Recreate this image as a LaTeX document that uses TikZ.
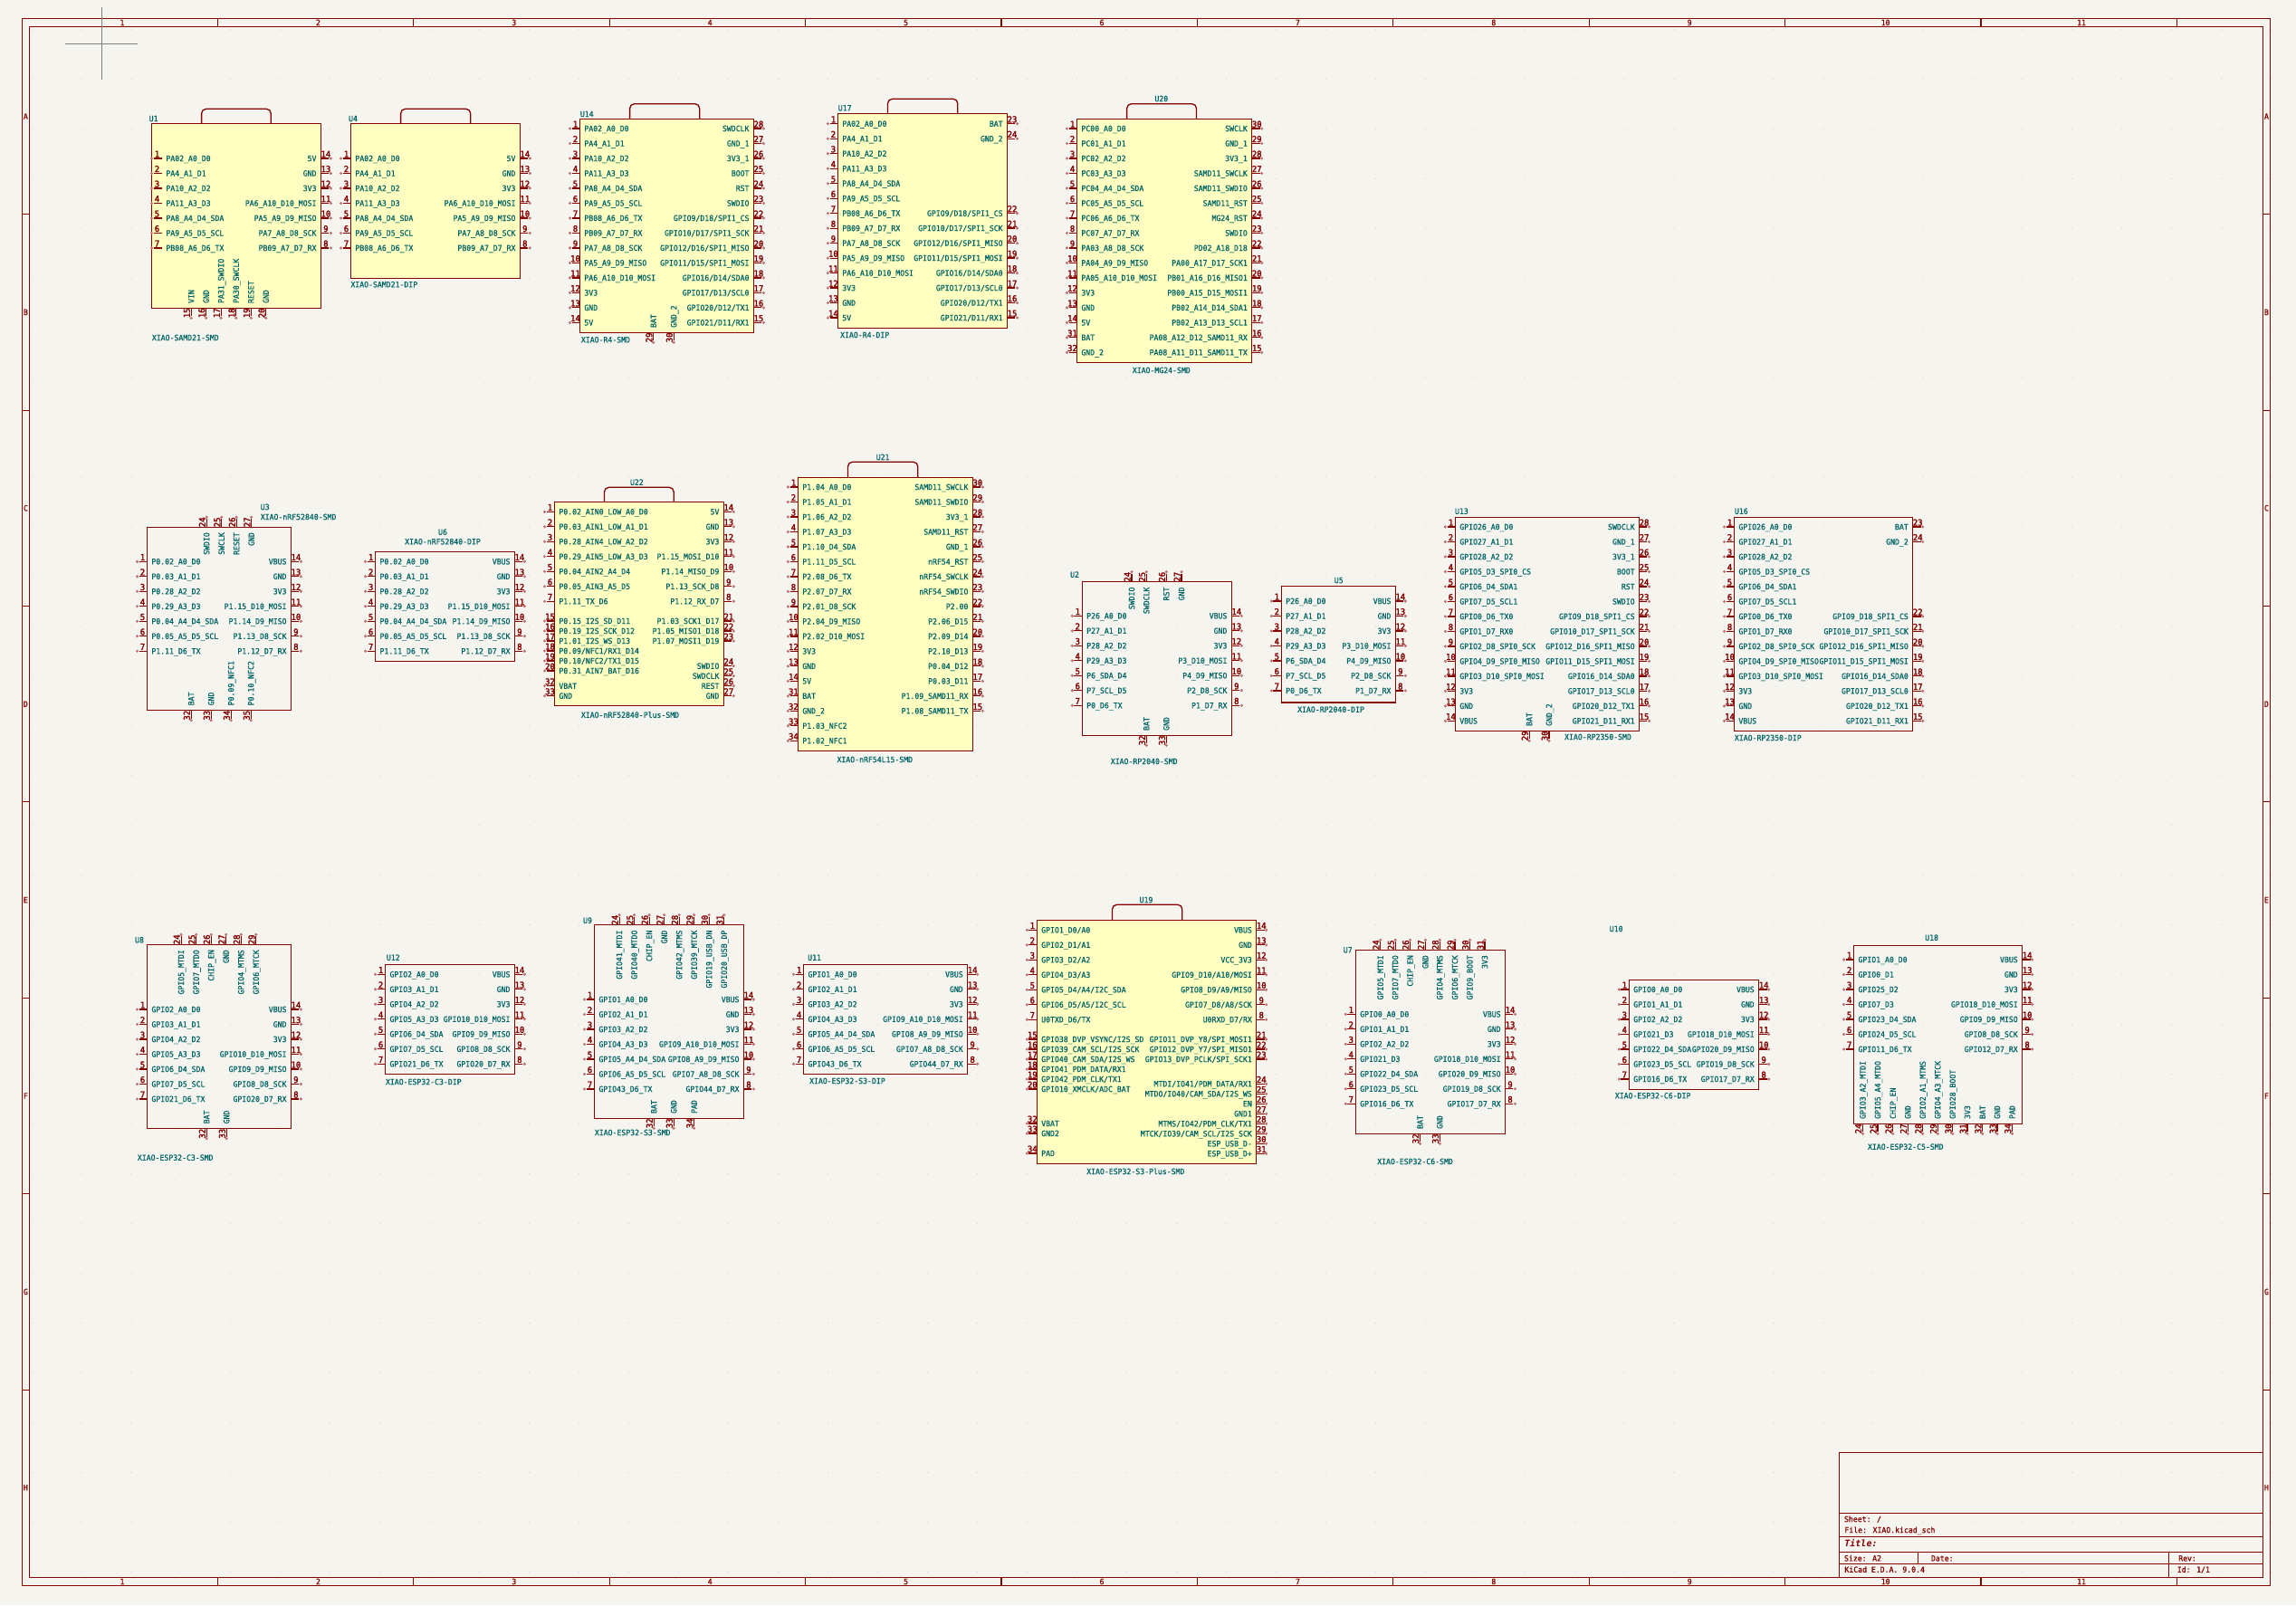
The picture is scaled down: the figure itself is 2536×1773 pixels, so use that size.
\documentclass[tikz,border=0pt]{standalone}
\usepackage{fontspec}
\setmonofont{DejaVu Sans Mono}
\newfontfamily\schmono[FakeStretch=0.95,FakeBold=0.8]{DejaVu Sans Mono}
\newfontfamily\schmononum[FakeStretch=0.95,FakeBold=2.5]{DejaVu Sans Mono}
\catcode`\_=12
\definecolor{sheetbg}{HTML}{F5F4EF}
\definecolor{schred}{HTML}{840000}
\definecolor{schteal}{HTML}{006464}
\definecolor{schfill}{HTML}{FFFFC2}
\definecolor{pindot}{HTML}{BC7272}
\newcommand{\schfont}{\schmono\fontsize{4.3}{5}\selectfont}
\newcommand{\numfont}{\schmononum\fontsize{4.7}{5}\selectfont}
\tikzset{
  framed/.style={draw=schred, line width=0.55pt},
  symplain/.style={draw=schred, line width=0.65pt},
  symfilled/.style={symplain, fill=schfill},
  griddot/.style={fill=black!18},
  pinline/.style={draw=schred, line width=0.6pt},
  pinend/.style={circle, inner sep=0pt, minimum size=1.7pt, fill=pindot},
  pintext/.style={font=\schfont, text=schteal, inner sep=0pt, text height=3.1pt, text depth=0pt},
  pinnum/.style={font=\numfont, text=schred, inner sep=0pt, text height=3.1pt, text depth=0pt},
  frametext/.style={font=\schfont, text=schred, inner sep=0pt, text height=3.1pt, text depth=0pt},
}
\newcommand{\xiaobox}[5][symplain]{\draw[#1] (#2,#3) rectangle (#4,#5);}
\newcommand{\usbtab}[4]{\draw[symplain, rounded corners=2.5pt] (#1,#3) -- (#1,#4) -- (#2,#4) -- (#2,#3);}
\newcommand{\pinsleft}[5][16.49]{%
  \foreach \pinid/\pintxt [count=\pincount from 0] in {#5}{
    \node[pinend] (#2_\pinid_end) at (#3, #4+\pincount*#1) {};
    \coordinate (#2_\pinid_in) at (#3+11, #4+\pincount*#1);
    \draw[pinline] (#2_\pinid_end) -- (#2_\pinid_in);
    \node[pinnum, anchor=south] (#2_\pinid_num) at (#3+6, #4+\pincount*#1-1) {\pinid};
    \node[pintext, anchor=west] (#2_\pinid_txt) at (#3+15.5, #4+\pincount*#1) {\pintxt};
  }}
\newcommand{\pinsright}[5][16.49]{%
  \foreach \pinid/\pintxt [count=\pincount from 0] in {#5}{
    \node[pinend] (#2_\pinid_end) at (#3, #4+\pincount*#1) {};
    \coordinate (#2_\pinid_in) at (#3-11, #4+\pincount*#1);
    \draw[pinline] (#2_\pinid_end) -- (#2_\pinid_in);
    \node[pinnum, anchor=south] (#2_\pinid_num) at (#3-5.5, #4+\pincount*#1-1) {\pinid};
    \node[pintext, anchor=east] (#2_\pinid_txt) at (#3-15.5, #4+\pincount*#1) {\pintxt};
  }}
\newcommand{\pinstop}[3]{%
  \foreach \pinid/\pinx/\pintxt in {#3}{
    \node[pinend] (#1_\pinid_end) at (\pinx, #2-11) {};
    \coordinate (#1_\pinid_in) at (\pinx, #2);
    \draw[pinline] (#1_\pinid_end) -- (#1_\pinid_in);
    \node[pinnum, rotate=90, anchor=south] (#1_\pinid_num) at (\pinx-1, #2-5.5) {\pinid};
    \node[pintext, rotate=90, anchor=east] (#1_\pinid_txt) at (\pinx, #2+5.5) {\pintxt};
  }}
\newcommand{\pinsbottom}[3]{%
  \foreach \pinid/\pinx/\pintxt in {#3}{
    \node[pinend] (#1_\pinid_end) at (\pinx, #2+11) {};
    \coordinate (#1_\pinid_in) at (\pinx, #2);
    \draw[pinline] (#1_\pinid_end) -- (#1_\pinid_in);
    \node[pinnum, rotate=90, anchor=south] (#1_\pinid_num) at (\pinx-1, #2+5.5) {\pinid};
    \node[pintext, rotate=90, anchor=west] (#1_\pinid_txt) at (\pinx, #2-5) {\pintxt};
  }}
\begin{document}
\begin{tikzpicture}[x=0.5pt, y=-0.5pt]
\useasboundingbox (0,0) rectangle (2536,1773);
\fill[sheetbg] (0,0) rectangle (2536,1773);

\foreach \gx in {0,...,45} \foreach \gy in {0,...,31} \fill[griddot] (35+\gx*54.97, 32.3+\gy*54.97) circle (0.3pt);

\draw[framed] (24.3,20.3) rectangle (2507.4,1751.3);
\draw[framed] (32.3,29.3) rectangle (2499.5,1742.3);
\foreach \col [count=\colnr from 0] in {1,...,11}{
  \node[frametext] (col_top_\col) at (135+216.4*\colnr, 25) {\col};
  \node[frametext] (col_bot_\col) at (135+216.4*\colnr, 1747) {\col};
  \draw[framed] (240.4+216.4*\colnr, 20.3) -- (240.4+216.4*\colnr, 29.3);
  \draw[framed] (240.4+216.4*\colnr, 1742.3) -- (240.4+216.4*\colnr, 1751.3);
}
\foreach \row [count=\rownr from 0] in {A,...,H}{
  \node[frametext] (row_left_\row) at (28.4, 128.5+216.4*\rownr) {\row};
  \node[frametext] (row_right_\row) at (2503.4, 128.5+216.4*\rownr) {\row};
}
\foreach \rownr in {0,...,6}{
  \draw[framed] (24.3, 236.7+216.4*\rownr) -- (32.3, 236.7+216.4*\rownr);
  \draw[framed] (2499.5, 236.7+216.4*\rownr) -- (2507.4, 236.7+216.4*\rownr);
}

\draw[black!50, line width=0.5pt] (72,48.3) -- (152,48.3);
\draw[black!50, line width=0.5pt] (112.3,8) -- (112.3,88);

\draw[framed] (2031.5,1604.3) rectangle (2499.5,1742.3);
\draw[framed] (2031.5,1671.3) -- (2499.5,1671.3);
\draw[framed] (2031.5,1697.3) -- (2499.5,1697.3);
\draw[framed] (2031.5,1714.3) -- (2499.5,1714.3);
\draw[framed] (2031.5,1727.3) -- (2499.5,1727.3);
\draw[framed] (2118.6,1714.3) -- (2118.6,1727.3);
\draw[framed] (2395.6,1714.3) -- (2395.6,1742.3);
\node[frametext, anchor=west] (sheet_name) at (2036.6,1678) {Sheet: /};
\node[frametext, anchor=west] (file_name) at (2037,1690) {File: XIAO.kicad_sch};
\node[frametext, anchor=west, font=\ttfamily\bfseries\itshape\fontsize{5}{6}\selectfont] (title_name) at (2037,1705) {Title:};
\node[frametext, anchor=west] (size_name) at (2036.6,1721.3) {Size: A2};
\node[frametext, anchor=west] (date_name) at (2132.6,1721.3) {Date:};
\node[frametext, anchor=west] (rev_name) at (2405.8,1721.3) {Rev:};
\node[frametext, anchor=west] (kicad_name) at (2037,1733.7) {KiCad E.D.A. 9.0.4};
\node[frametext, anchor=west] (id_name) at (2404.4,1733.7) {Id: 1/1};

\xiaobox[symfilled]{167.5}{136.3}{354.4}{340.3}
\usbtab{222.6}{299.3}{136.3}{120.3}
\pinsleft{U1}{167.5}{175}{1/PA02_A0_D0,2/PA4_A1_D1,3/PA10_A2_D2,4/PA11_A3_D3,5/PA8_A4_D4_SDA,6/PA9_A5_D5_SCL,7/PB08_A6_D6_TX}
\pinsright{U1}{365.4}{175}{14/5V,13/GND,12/3V3,11/PA6_A10_D10_MOSI,10/PA5_A9_D9_MISO,9/PA7_A8_D8_SCK,8/PB09_A7_D7_RX}
\pinsbottom{U1}{340.3}{15/211.2/VIN,16/227.7/GND,17/244.2/PA31_SWDIO,18/260.8/PA30_SWCLK,19/277.3/RESET,20/293.8/GND}
\node[pintext, anchor=west] (U1_ref) at (164.3,131) {U1};
\node[pintext, anchor=west] (U1_val) at (167.5,373) {XIAO-SAMD21-SMD};

\xiaobox[symfilled]{387.5}{136.3}{574.3}{307.3}
\usbtab{442.6}{519.7}{136.3}{120.3}
\pinsleft{U4}{376.5}{175}{1/PA02_A0_D0,2/PA4_A1_D1,3/PA10_A2_D2,4/PA11_A3_D3,5/PA8_A4_D4_SDA,6/PA9_A5_D5_SCL,7/PB08_A6_D6_TX}
\pinsright{U4}{585.3}{175}{14/5V,13/GND,12/3V3,11/PA6_A10_D10_MOSI,10/PA5_A9_D9_MISO,9/PA7_A8_D8_SCK,8/PB09_A7_D7_RX}
\node[pintext, anchor=west] (U4_ref) at (384.7,131) {U4};
\node[pintext, anchor=west] (U4_val) at (387,314.3) {XIAO-SAMD21-DIP};

\xiaobox[symfilled]{640.5}{131.7}{832.4}{367.3}
\usbtab{695.6}{772.7}{131.7}{114.7}
\pinsleft{U14}{629.5}{142}{1/PA02_A0_D0,2/PA4_A1_D1,3/PA10_A2_D2,4/PA11_A3_D3,5/PA8_A4_D4_SDA,6/PA9_A5_D5_SCL,7/PB08_A6_D6_TX,8/PB09_A7_D7_RX,9/PA7_A8_D8_SCK,10/PA5_A9_D9_MISO,11/PA6_A10_D10_MOSI,12/3V3,13/GND,14/5V}
\pinsright{U14}{843.4}{142}{28/SWDCLK,27/GND_1,26/3V3_1,25/BOOT,24/RST,23/SWDIO,22/{GPIO9/D18/SPI1_CS},21/{GPIO10/D17/SPI1_SCK},20/{GPIO12/D16/SPI1_MISO},19/{GPIO11/D15/SPI1_MOSI},18/{GPIO16/D14/SDA0},17/{GPIO17/D13/SCL0},16/{GPIO20/D12/TX1},15/{GPIO21/D11/RX1}}
\pinsbottom{U14}{367.3}{29/721.7/BAT,30/744.2/GND_2}
\node[pintext, anchor=west] (U14_ref) at (640.5,126) {U14};
\node[pintext, anchor=west] (U14_val) at (641.5,375.3) {XIAO-R4-SMD};

\xiaobox[symfilled]{925.4}{125.3}{1112.5}{362.3}
\usbtab{980.5}{1057.8}{125.3}{109.3}
\pinsleft{U17}{914.4}{136.7}{1/PA02_A0_D0,2/PA4_A1_D1,3/PA10_A2_D2,4/PA11_A3_D3,5/PA8_A4_D4_SDA,6/PA9_A5_D5_SCL,7/PB08_A6_D6_TX,8/PB09_A7_D7_RX,9/PA7_A8_D8_SCK,10/PA5_A9_D9_MISO,11/PA6_A10_D10_MOSI,12/3V3,13/GND,14/5V}
\pinsright{U17}{1123.5}{136.7}{23/BAT,24/GND_2}
\pinsright{U17}{1123.5}{235.6}{22/{GPIO9/D18/SPI1_CS},21/{GPIO10/D17/SPI1_SCK},20/{GPIO12/D16/SPI1_MISO},19/{GPIO11/D15/SPI1_MOSI},18/{GPIO16/D14/SDA0},17/{GPIO17/D13/SCL0},16/{GPIO20/D12/TX1},15/{GPIO21/D11/RX1}}
\node[pintext, anchor=west] (U17_ref) at (925.4,119.3) {U17};
\node[pintext, anchor=west] (U17_val) at (927.7,370) {XIAO-R4-DIP};

\xiaobox[symfilled]{1189.5}{131.7}{1382.7}{400.3}
\usbtab{1244.6}{1321.5}{131.7}{114.7}
\pinsleft{U20}{1178.5}{142}{1/PC00_A0_D0,2/PC01_A1_D1,3/PC02_A2_D2,4/PC03_A3_D3,5/PC04_A4_D4_SDA,6/PC05_A5_D5_SCL,7/PC06_A6_D6_TX,8/PC07_A7_D7_RX,9/PA03_A8_D8_SCK,10/PA04_A9_D9_MISO,11/PA05_A10_D10_MOSI,12/3V3,13/GND,14/5V,31/BAT,32/GND_2}
\pinsright{U20}{1393.7}{142}{30/SWCLK,29/GND_1,28/3V3_1,27/SAMD11_SWCLK,26/SAMD11_SWDIO,25/SAMD11_RST,24/MG24_RST,23/SWDIO,22/PD02_A18_D18,21/PA00_A17_D17_SCK1,20/PB01_A16_D16_MISO1,19/PB00_A15_D15_MOSI1,18/PB02_A14_D14_SDA1,17/PB02_A13_D13_SCL1,16/PA08_A12_D12_SAMD11_RX,15/PA08_A11_D11_SAMD11_TX}
\node[pintext] (U20_ref) at (1282.8,109) {U20};
\node[pintext] (U20_val) at (1282.8,409) {XIAO-MG24-SMD};

\xiaobox{162.5}{582.3}{321.4}{784.7}
\pinsleft{U3}{151.5}{620.3}{1/P0.02_A0_D0,2/P0.03_A1_D1,3/P0.28_A2_D2,4/P0.29_A3_D3,5/P0.04_A4_D4_SDA,6/P0.05_A5_D5_SCL,7/P1.11_D6_TX}
\pinsright{U3}{332.4}{620.3}{14/VBUS,13/GND,12/3V3,11/P1.15_D10_MOSI,10/P1.14_D9_MISO,9/P1.13_D8_SCK,8/P1.12_D7_RX}
\pinstop{U3}{582.3}{24/228.2/SWDIO,25/244.7/SWCLK,26/261.2/RESET,27/277.7/GND}
\pinsbottom{U3}{784.7}{32/211.2/BAT,33/233.2/GND,34/255.2/P0.09_NFC1,35/277.2/P0.10_NFC2}
\node[pintext, anchor=west] (U3_ref) at (287.4,560) {U3};
\node[pintext, anchor=west] (U3_val) at (287.4,571) {XIAO-nRF52840-SMD};

\xiaobox{414.6}{609.3}{568.4}{730.3}
\pinsleft{U6}{403.6}{620.3}{1/P0.02_A0_D0,2/P0.03_A1_D1,3/P0.28_A2_D2,4/P0.29_A3_D3,5/P0.04_A4_D4_SDA,6/P0.05_A5_D5_SCL,7/P1.11_D6_TX}
\pinsright{U6}{579.4}{620.3}{14/VBUS,13/GND,12/3V3,11/P1.15_D10_MOSI,10/P1.14_D9_MISO,9/P1.13_D8_SCK,8/P1.12_D7_RX}
\node[pintext] (U6_ref) at (489,587.7) {U6};
\node[pintext] (U6_val) at (489,598.3) {XIAO-nRF52840-DIP};

\xiaobox[symfilled]{612.5}{554.3}{799.3}{779.3}
\usbtab{667.5}{744.2}{554.3}{538.3}
\pinsleft{U22}{601.5}{565.3}{1/P0.02_AIN0_LOW_A0_D0,2/P0.03_AIN1_LOW_A1_D1,3/P0.28_AIN4_LOW_A2_D2,4/P0.29_AIN5_LOW_A3_D3,5/P0.04_AIN2_A4_D4,6/P0.05_AIN3_A5_D5,7/P1.11_TX_D6}
\pinsleft[11]{U22}{601.5}{686}{15/P0.15_I2S_SD_D11,16/P0.19_I2S_SCK_D12,17/P1.01_I2S_WS_D13,18/{P0.09/NFC1/RX1_D14},19/{P0.10/NFC2/TX1_D15},20/P0.31_AIN7_BAT_D16}
\pinsleft[11]{U22}{601.5}{757.7}{32/VBAT,33/GND}
\pinsright{U22}{810.3}{565.3}{14/5V,13/GND,12/3V3,11/P1.15_MOSI_D10,10/P1.14_MISO_D9,9/P1.13_SCK_D8,8/P1.12_RX_D7}
\pinsright[11]{U22}{810.3}{686}{21/P1.03_SCK1_D17,22/P1.05_MISO1_D18,23/P1.07_MOSI1_D19}
\pinsright[11]{U22}{810.3}{735.7}{24/SWDIO,25/SWDCLK,26/REST,27/GND}
\node[pintext] (U22_ref) at (703.4,532.7) {U22};
\node[pintext] (U22_val) at (696,789.7) {XIAO-nRF52840-Plus-SMD};

\xiaobox[symfilled]{881.4}{527.3}{1074.3}{829.3}
\usbtab{936.5}{1013.8}{527.3}{510.3}
\pinsleft{U21}{870.4}{538}{1/P1.04_A0_D0,2/P1.05_A1_D1,3/P1.06_A2_D2,4/P1.07_A3_D3,5/P1.10_D4_SDA,6/P1.11_D5_SCL,7/P2.08_D6_TX,8/P2.07_D7_RX,9/P2.01_D8_SCK,10/P2.04_D9_MISO,11/P2.02_D10_MOSI,12/3V3,13/GND,14/5V,31/BAT,32/GND_2,33/P1.03_NFC2,34/P1.02_NFC1}
\pinsright{U21}{1085.3}{538}{30/SAMD11_SWCLK,29/SAMD11_SWDIO,28/3V3_1,27/SAMD11_RST,26/GND_1,25/nRF54_RST,24/nRF54_SWCLK,23/nRF54_SWDIO,22/P2.00,21/P2.06_D15,20/P2.09_D14,19/P2.10_D13,18/P0.04_D12,17/P0.03_D11,16/P1.09_SAMD11_RX,15/P1.08_SAMD11_TX}
\node[pintext] (U21_ref) at (975.1,505) {U21};
\node[pintext] (U21_val) at (966.3,839) {XIAO-nRF54L15-SMD};

\xiaobox{1195.3}{642.7}{1360.3}{812.3}
\pinsleft{U2}{1184.3}{680.3}{1/P26_A0_D0,2/P27_A1_D1,3/P28_A2_D2,4/P29_A3_D3,5/P6_SDA_D4,6/P7_SCL_D5,7/P0_D6_TX}
\pinsright{U2}{1371.3}{680.3}{14/VBUS,13/GND,12/3V3,11/P3_D10_MOSI,10/P4_D9_MISO,9/P2_D8_SCK,8/P1_D7_RX}
\pinstop{U2}{642.7}{24/1250/SWDIO,25/1266.3/SWDCLK,26/1288.3/RST,27/1305/GND}
\pinsbottom{U2}{812.3}{32/1266.3/BAT,33/1288.3/GND}
\node[pintext, anchor=west] (U2_ref) at (1181.7,634.7) {U2};
\node[pintext] (U2_val) at (1263.7,841) {XIAO-RP2040-SMD};

\xiaobox{1415.3}{647.7}{1541.3}{776}
\pinsleft{U5}{1404.3}{664}{1/P26_A0_D0,2/P27_A1_D1,3/P28_A2_D2,4/P29_A3_D3,5/P6_SDA_D4,6/P7_SCL_D5,7/P0_D6_TX}
\pinsright{U5}{1552.3}{664}{14/VBUS,13/GND,12/3V3,11/P3_D10_MOSI,10/P4_D9_MISO,9/P2_D8_SCK,8/P1_D7_RX}
\node[pintext] (U5_ref) at (1478.7,641) {U5};
\node[pintext] (U5_val) at (1470,783.7) {XIAO-RP2040-DIP};

\xiaobox{1607.4}{571.7}{1810.5}{807.3}
\pinsleft{U13}{1596.4}{582}{1/GPIO26_A0_D0,2/GPIO27_A1_D1,3/GPIO28_A2_D2,4/GPIO5_D3_SPI0_CS,5/GPIO6_D4_SDA1,6/GPIO7_D5_SCL1,7/GPIO0_D6_TX0,8/GPIO1_D7_RX0,9/GPIO2_D8_SPI0_SCK,10/GPIO4_D9_SPI0_MISO,11/GPIO3_D10_SPI0_MOSI,12/3V3,13/GND,14/VBUS}
\pinsright{U13}{1821.5}{582}{28/SWDCLK,27/GND_1,26/3V3_1,25/BOOT,24/RST,23/SWDIO,22/GPIO9_D18_SPI1_CS,21/GPIO10_D17_SPI1_SCK,20/GPIO12_D16_SPI1_MISO,19/GPIO11_D15_SPI1_MOSI,18/GPIO16_D14_SDA0,17/GPIO17_D13_SCL0,16/GPIO20_D12_TX1,15/GPIO21_D11_RX1}
\pinsbottom{U13}{807.3}{29/1689.1/BAT,30/1711/GND_2}
\node[pintext, anchor=west] (U13_ref) at (1606.6,564.7) {U13};
\node[pintext] (U13_val) at (1765,814) {XIAO-RP2350-SMD};

\xiaobox{1915.5}{571.7}{2112.7}{807.3}
\pinsleft{U16}{1904.5}{582}{1/GPIO26_A0_D0,2/GPIO27_A1_D1,3/GPIO28_A2_D2,4/GPIO5_D3_SPI0_CS,5/GPIO6_D4_SDA1,6/GPIO7_D5_SCL1,7/GPIO0_D6_TX0,8/GPIO1_D7_RX0,9/GPIO2_D8_SPI0_SCK,10/GPIO4_D9_SPI0_MISO,11/GPIO3_D10_SPI0_MOSI,12/3V3,13/GND,14/VBUS}
\pinsright{U16}{2123.7}{582}{23/BAT,24/GND_2}
\pinsright{U16}{2123.7}{680.9}{22/GPIO9_D18_SPI1_CS,21/GPIO10_D17_SPI1_SCK,20/GPIO12_D16_SPI1_MISO,19/GPIO11_D15_SPI1_MOSI,18/GPIO16_D14_SDA0,17/GPIO17_D13_SCL0,16/GPIO20_D12_TX1,15/GPIO21_D11_RX1}
\node[pintext, anchor=west] (U16_ref) at (1915.5,564.7) {U16};
\node[pintext, anchor=west] (U16_val) at (1915.5,815) {XIAO-RP2350-DIP};

\xiaobox{162.5}{1043.3}{321.4}{1246.7}
\pinsleft{U8}{151.5}{1115}{1/GPIO2_A0_D0,2/GPIO3_A1_D1,3/GPIO4_A2_D2,4/GPIO5_A3_D3,5/GPIO6_D4_SDA,6/GPIO7_D5_SCL,7/GPIO21_D6_TX}
\pinsright{U8}{332.4}{1115}{14/VBUS,13/GND,12/3V3,11/GPIO10_D10_MOSI,10/GPIO9_D9_MISO,9/GPIO8_D8_SCK,8/GPIO20_D7_RX}
\pinstop{U8}{1043.3}{24/200.1/GPIO5_MTDI,25/216.7/GPIO7_MTDO,26/233.2/CHIP_EN,27/249.7/GND,28/266.3/GPIO4_MTMS,29/282.8/GPIO6_MTCK}
\pinsbottom{U8}{1246.7}{32/228.2/BAT,33/250.2/GND}
\node[pintext, anchor=west] (U8_ref) at (148.7,1038.3) {U8};
\node[pintext, anchor=west] (U8_val) at (151.5,1278.7) {XIAO-ESP32-C3-SMD};

\xiaobox{425.6}{1065.3}{568.4}{1186.3}
\pinsleft{U12}{414.6}{1076.3}{1/GPIO2_A0_D0,2/GPIO3_A1_D1,3/GPIO4_A2_D2,4/GPIO5_A3_D3,5/GPIO6_D4_SDA,6/GPIO7_D5_SCL,7/GPIO21_D6_TX}
\pinsright{U12}{579.4}{1076.3}{14/VBUS,13/GND,12/3V3,11/GPIO10_D10_MOSI,10/GPIO9_D9_MISO,9/GPIO8_D8_SCK,8/GPIO20_D7_RX}
\node[pintext, anchor=west] (U12_ref) at (426.5,1057.7) {U12};
\node[pintext, anchor=west] (U12_val) at (425.6,1195) {XIAO-ESP32-C3-DIP};

\xiaobox{656.5}{1021.7}{821.4}{1235.3}
\pinsleft{U9}{645.5}{1104}{1/GPIO1_A0_D0,2/GPIO2_A1_D1,3/GPIO3_A2_D2,4/GPIO4_A3_D3,5/GPIO5_A4_D4_SDA,6/GPIO6_A5_D5_SCL,7/GPIO43_D6_TX}
\pinsright{U9}{832.4}{1104}{14/VBUS,13/GND,12/3V3,11/GPIO9_A10_D10_MOSI,10/GPIO8_A9_D9_MISO,9/GPIO7_A8_D8_SCK,8/GPIO44_D7_RX}
\pinstop{U9}{1021.7}{24/684.1/GPIO41_MTDI,25/700.6/GPIO40_MTDO,26/717.1/CHIP_EN,27/733.7/GND,28/750.2/GPIO42_MTMS,29/766.7/GPIO39_MTCK,30/783.2/GPIO19_USB_DN,31/799.8/GPIO20_USB_DP}
\pinsbottom{U9}{1235.3}{32/722.2/BAT,33/744.2/GND,34/766.7/PAD}
\node[pintext, anchor=west] (U9_ref) at (643.7,1016.7) {U9};
\node[pintext, anchor=west] (U9_val) at (656.5,1251) {XIAO-ESP32-S3-SMD};

\xiaobox{887.6}{1065.3}{1068.6}{1186.3}
\pinsleft{U11}{876.6}{1076.3}{1/GPIO1_A0_D0,2/GPIO2_A1_D1,3/GPIO3_A2_D2,4/GPIO4_A3_D3,5/GPIO5_A4_D4_SDA,6/GPIO6_A5_D5_SCL,7/GPIO43_D6_TX}
\pinsright{U11}{1079.6}{1076.3}{14/VBUS,13/GND,12/3V3,11/GPIO9_A10_D10_MOSI,10/GPIO8_A9_D9_MISO,9/GPIO7_A8_D8_SCK,8/GPIO44_D7_RX}
\node[pintext, anchor=west] (U11_ref) at (891.8,1057.7) {U11};
\node[pintext, anchor=west] (U11_val) at (893.7,1194) {XIAO-ESP32-S3-DIP};

\xiaobox[symfilled]{1145.3}{1016.3}{1387.7}{1285.3}
\usbtab{1228.5}{1305.8}{1016.3}{999.3}
\pinsleft{U19}{1134.3}{1027.3}{1/{GPIO1_D0/A0},2/{GPIO2_D1/A1},3/{GPIO3_D2/A2},4/{GPIO4_D3/A3},5/{GPIO5_D4/A4/I2C_SDA},6/{GPIO6_D5/A5/I2C_SCL},7/{U0TXD_D6/TX}}
\pinsleft[11]{U19}{1134.3}{1148}{15/{GPIO38_DVP_VSYNC/I2S_SD},16/{GPIO39_CAM_SCL/I2S_SCK},17/{GPIO40_CAM_SDA/I2S_WS},18/{GPIO41_PDM_DATA/RX1},19/{GPIO42_PDM_CLK/TX1},20/{GPIO10_XMCLK/ADC_BAT}}
\pinsleft[11]{U19}{1134.3}{1241}{32/VBAT,33/GND2}
\pinsleft[11]{U19}{1134.3}{1274}{34/PAD}
\pinsright{U19}{1398.7}{1027.3}{14/VBUS,13/GND,12/VCC_3V3,11/{GPIO9_D10/A10/MOSI},10/{GPIO8_D9/A9/MISO},9/{GPIO7_D8/A8/SCK},8/{U0RXD_D7/RX}}
\pinsright[11]{U19}{1398.7}{1148}{21/{GPIO11_DVP_Y8/SPI_MOSI1},22/{GPIO12_DVP_Y7/SPI_MISO1},23/{GPIO13_DVP_PCLK/SPI_SCK1}}
\pinsright[11]{U19}{1398.7}{1197.3}{24/{MTDI/IO41/PDM_DATA/RX1},25/{MTDO/IO40/CAM_SDA/I2S_WS},26/EN,27/GND1,28/{MTMS/IO42/PDM_CLK/TX1},29/{MTCK/IO39/CAM_SCL/I2S_SCK},30/ESP_USB_D-,31/ESP_USB_D+}
\node[pintext] (U19_ref) at (1266,994) {U19};
\node[pintext] (U19_val) at (1254.3,1294) {XIAO-ESP32-S3-Plus-SMD};

\xiaobox{1497.3}{1049.3}{1662.5}{1252.3}
\pinsleft{U7}{1486.3}{1120.3}{1/GPIO0_A0_D0,2/GPIO1_A1_D1,3/GPIO2_A2_D2,4/GPIO21_D3,5/GPIO22_D4_SDA,6/GPIO23_D5_SCL,7/GPIO16_D6_TX}
\pinsright{U7}{1673.5}{1120.3}{14/VBUS,13/GND,12/3V3,11/GPIO18_D10_MOSI,10/GPIO20_D9_MISO,9/GPIO19_D8_SCK,8/GPIO17_D7_RX}
\pinstop{U7}{1049.3}{24/1524.7/GPIO5_MTDI,25/1541.1/GPIO7_MTDO,26/1557.5/CHIP_EN,27/1574.4/GND,28/1590.3/GPIO4_MTMS,29/1607/GPIO6_MTCK,30/1623.5/GPIO9_BOOT,31/1640/3V3}
\pinsbottom{U7}{1252.3}{32/1568.5/BAT,33/1590.3/GND}
\node[pintext, anchor=west] (U7_ref) at (1483.4,1049.3) {U7};
\node[pintext] (U7_val) at (1563,1283) {XIAO-ESP32-C6-SMD};

\xiaobox{1799.3}{1082.3}{1942.6}{1203.3}
\pinsleft{U10}{1788.3}{1093}{1/GPIO0_A0_D0,2/GPIO1_A1_D1,3/GPIO2_A2_D2,4/GPIO21_D3,5/GPIO22_D4_SDA,6/GPIO23_D5_SCL,7/GPIO16_D6_TX}
\pinsright{U10}{1953.6}{1093}{14/VBUS,13/GND,12/3V3,11/GPIO18_D10_MOSI,10/GPIO20_D9_MISO,9/GPIO19_D8_SCK,8/GPIO17_D7_RX}
\node[pintext, anchor=west] (U10_ref) at (1777.4,1026) {U10};
\node[pintext, anchor=west] (U10_val) at (1783.4,1210.3) {XIAO-ESP32-C6-DIP};

\xiaobox{2047.6}{1044.3}{2233.6}{1241.3}
\pinsleft{U18}{2036.6}{1060}{1/GPIO1_A0_D0,2/GPIO0_D1,3/GPIO25_D2,4/GPIO7_D3,5/GPIO23_D4_SDA,6/GPIO24_D5_SCL,7/GPIO11_D6_TX}
\pinsright{U18}{2244.6}{1060}{14/VBUS,13/GND,12/3V3,11/GPIO18_D10_MOSI,10/GPIO9_D9_MISO,9/GPIO8_D8_SCK,8/GPIO12_D7_RX}
\pinsbottom{U18}{1241.3}{24/2057.5/GPIO3_A2_MTDI,25/2074/GPIO5_A4_MTDO,26/2090.8/CHIP_EN,27/2107.3/GND,28/2123.7/GPIO2_A1_MTMS,29/2140.3/GPIO4_A3_MTCK,30/2156.8/GPIO28_BOOT,31/2173/3V3,32/2189.7/BAT,33/2206/GND,34/2222.6/PAD}
\node[pintext] (U18_ref) at (2133.6,1035.7) {U18};
\node[pintext] (U18_val) at (2104.8,1266.7) {XIAO-ESP32-C5-SMD};

\end{tikzpicture}
\end{document}
